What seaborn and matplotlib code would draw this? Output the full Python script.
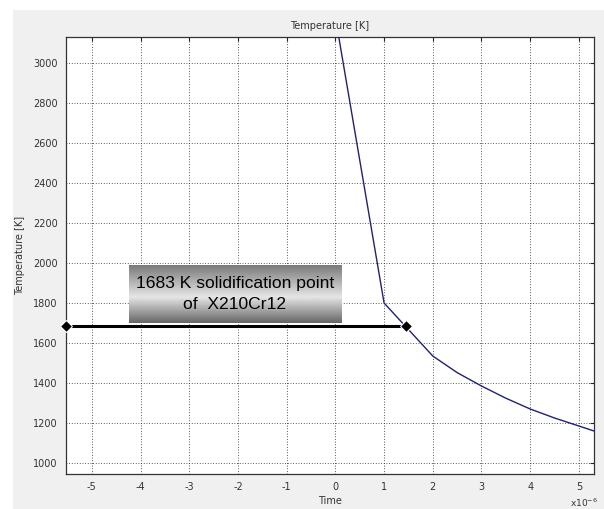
import numpy as np
import pandas as pd
import matplotlib
matplotlib.use("Agg")
import matplotlib.pyplot as plt
from matplotlib.patches import Rectangle
import seaborn as sns

# data (time in 1e-6 s, temperature in K)
time_vals = [0.0, 1.0, 2.0, 2.5, 3.0, 3.5, 4.0, 4.5, 5.0, 5.31]
temp_vals = [3230, 1800, 1535, 1452, 1385, 1324, 1270, 1225, 1185, 1160]
solid_time = [-5.53, 1.45]
solid_temp = [1683, 1683]
x_ticks = [-5, -4, -3, -2, -1, 0, 1, 2, 3, 4, 5]
y_ticks = [1000, 1200, 1400, 1600, 1800, 2000, 2200, 2400, 2600, 2800, 3000]
annot_text = "1683 K solidification point\nof  X210Cr12"

sns.set_style("white")
plt.rcParams['font.family'] = ['DejaVu Sans']

fig = plt.figure(figsize=(6.04, 5.09), dpi=100, facecolor="white")
fig.patches.append(Rectangle((13/604, 0.5/509), 1 - 13/604, (509 - 10 - 0.5)/509,
                             transform=fig.transFigure, facecolor="#f0f0f0",
                             edgecolor="none", zorder=-10))

ax = fig.add_axes([66/604, 1 - 474/509, (594 - 66)/604, (474 - 37)/509])
ax.set_facecolor("white")

df = pd.DataFrame({"Time": time_vals, "Temperature": temp_vals})
sns.lineplot(data=df, x="Time", y="Temperature", ax=ax, color="#20207a",
             linewidth=1.0, zorder=3)

sdf = pd.DataFrame({"Time": solid_time, "Temperature": solid_temp})
sns.lineplot(data=sdf, x="Time", y="Temperature", ax=ax, color="black",
             linewidth=2.2, marker="D", markersize=6.5, zorder=4, clip_on=False)

ax.set_xlim(-5.53, 5.31)
ax.set_ylim(945, 3130)
ax.set_xticks(x_ticks)
ax.set_yticks(y_ticks)
ax.set_xticklabels([str(t) for t in x_ticks])
ax.set_yticklabels([str(t) for t in y_ticks])
ax.tick_params(axis="both", direction="in", length=3, width=0.8, labelsize=7,
               labelcolor="#333333", color="#222222", pad=6)
ax.tick_params(top=True, right=True, labeltop=False, labelright=False)
ax.grid(True, color="#222222", linestyle=(0, (1, 2.2)), linewidth=0.6)
for s in ax.spines.values():
    s.set_color("#333333")
    s.set_linewidth(0.9)

ax.set_xlabel("Time", fontsize=7, color="#333333", labelpad=3)
ax.set_ylabel("Temperature [K]", fontsize=7, color="#333333", labelpad=6)
ax.set_title("Temperature [K]", fontsize=7, color="#333333", pad=6)
fig.text(570/604, 1 - 503/509, r"x10$^{-6}$", fontsize=6.5, color="#333333",
         ha="left", va="center")

# gradient annotation box
bax = fig.add_axes([129/604, 1 - 323/509, 212/604, 58/509])
stops_pos = [0.0, 0.55, 1.0]
stops_val = [0.48, 0.90, 0.40]
grad = np.interp(np.linspace(0, 1, 100), stops_pos, stops_val)
bax.imshow(grad[:, None], aspect="auto", cmap="gray", vmin=0, vmax=1,
           extent=[0, 1, 0, 1], origin="upper")
bax.set_axis_off()
bax.text(0.5, 0.5, annot_text, ha="center", va="center", fontsize=12.6,
         family=["Liberation Sans"], color="black",
         linespacing=1.5, transform=bax.transAxes)

fig.savefig("out.png", dpi=100, facecolor=fig.get_facecolor())
